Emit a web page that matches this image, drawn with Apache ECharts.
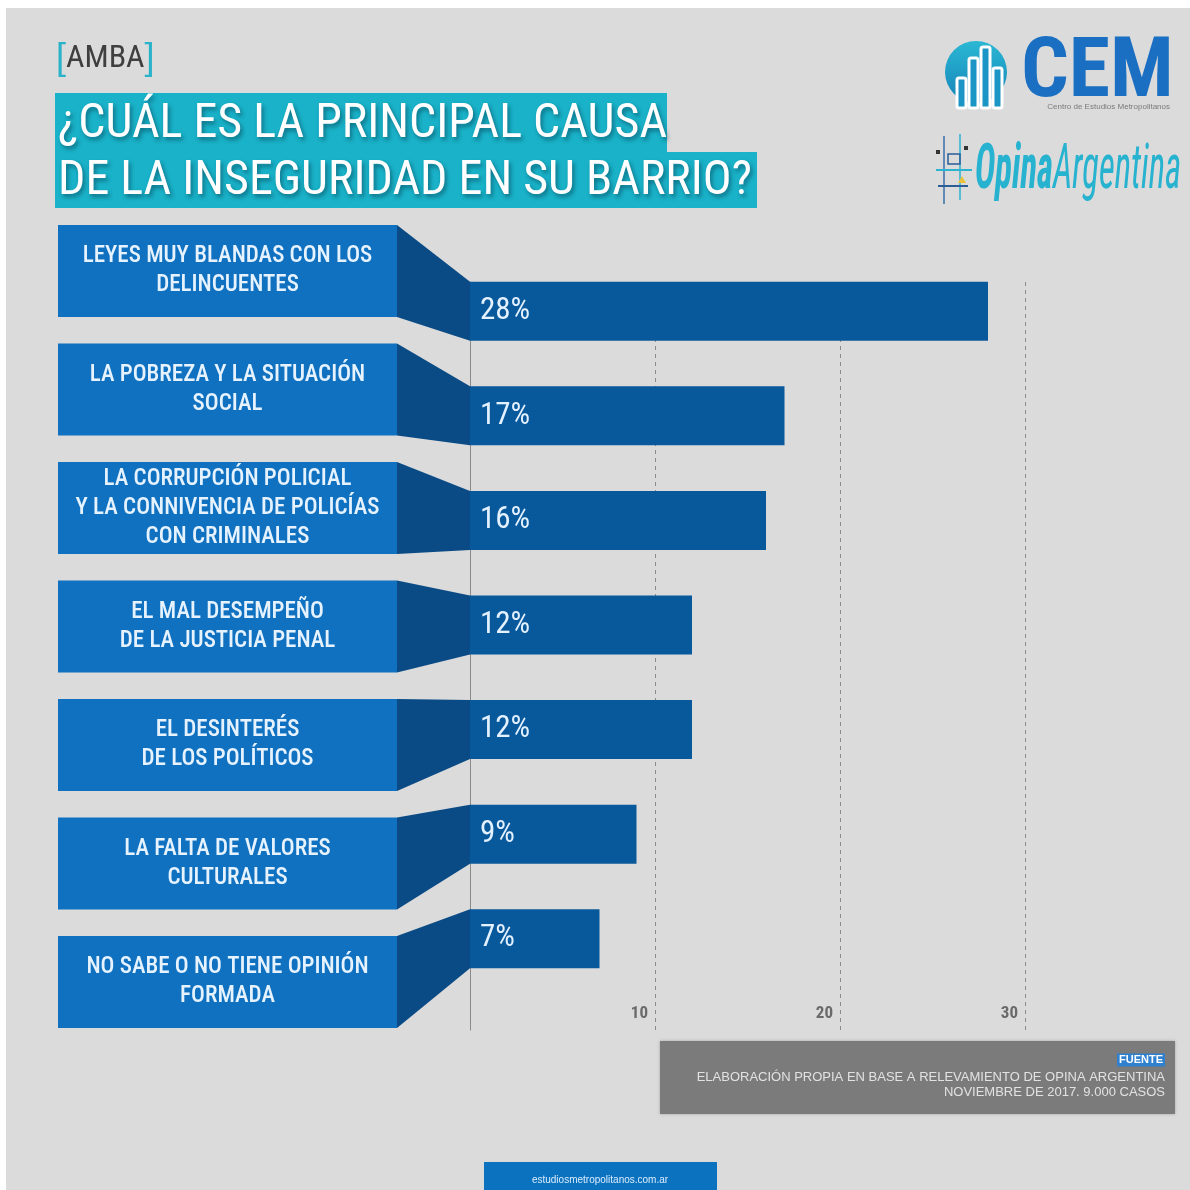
<!DOCTYPE html>
<html><head><meta charset="utf-8">
<script src="https://cdn.jsdelivr.net/npm/echarts@6/dist/echarts.min.js"></script>
<style>html,body{margin:0;padding:0;background:#fff;}#c{width:1190px;height:1190px;}</style>
</head><body><div id="c"></div>
<script>
const categories = [
  'LEYES MUY BLANDAS CON LOS\nDELINCUENTES',
  'LA POBREZA Y LA SITUACIÓN\nSOCIAL',
  'LA CORRUPCIÓN POLICIAL\nY LA CONNIVENCIA DE POLICÍAS\nCON CRIMINALES',
  'EL MAL DESEMPEÑO\nDE LA JUSTICIA PENAL',
  'EL DESINTERÉS\nDE LOS POLÍTICOS',
  'LA FALTA DE VALORES\nCULTURALES',
  'NO SABE O NO TIENE OPINIÓN\nFORMADA'
];
const values = [28, 17, 16, 12, 12, 9, 7];
const axisMax = 30;
const axisInterval = 10;
const titleLines = ['¿CUÁL ES LA PRINCIPAL CAUSA', 'DE LA INSEGURIDAD EN SU BARRIO?'];
const regionLabel = 'AMBA';
const sourceLines = ['ELABORACIÓN PROPIA EN BASE A RELEVAMIENTO DE OPINA ARGENTINA', 'NOVIEMBRE DE 2017. 9.000 CASOS'];
const footerText = 'estudiosmetropolitanos.com.ar';

const FONT = "'Liberation Sans Narrow','Arial Narrow','Roboto Condensed',Roboto,sans-serif";
const SANS = "'Liberation Sans',Arial,sans-serif";
const BOX_H = 92, BAR_W = 59;
const BOX_BLUE = '#0f71bf', BAR_BLUE = '#08599b', CONN_BLUE = '#0a4b85';

const chart = echarts.init(document.getElementById('c'), null, {renderer: 'canvas'});

const option = {
  backgroundColor: '#dbdbdb',
  animation: false,
  grid: [
    {left: 470, top: 259, width: 555, height: 732},
    {left: 470, top: 282, width: 555, height: 748},
    {left: 58, top: 211.75, width: 339, height: 829.5}
  ],
  xAxis: [
    {gridIndex: 0, type: 'value', min: 0, max: axisMax, show: false},
    {gridIndex: 1, type: 'value', min: 0, max: axisMax, interval: axisInterval,
      axisLine: {show: false}, axisTick: {show: false},
      splitLine: {show: true, lineStyle: {color: '#8a8a8a', type: [4, 4], width: 1}},
      axisLabel: {inside: true, showMinLabel: false, align: 'right', padding: [0, 7, 0, 0], margin: 8,
        color: '#6a6a6a', fontSize: 17, fontWeight: 'bold', fontFamily: FONT}},
    {gridIndex: 2, type: 'value', min: 0, max: 1, show: false}
  ],
  yAxis: [
    {gridIndex: 0, type: 'category', data: categories, inverse: true, show: false},
    {gridIndex: 1, type: 'value', min: 0, max: 1, axisLine: {show: true, lineStyle: {color: '#8a8a8a', width: 1}},
      axisTick: {show: false}, axisLabel: {show: false}, splitLine: {show: false}},
    {gridIndex: 2, type: 'category', data: categories, inverse: true, show: false}
  ],
  series: [
    {type: 'bar', id: 'bars', xAxisIndex: 0, yAxisIndex: 0, data: values, barWidth: BAR_W, z: 3, silent: true,
      itemStyle: {color: BAR_BLUE},
      label: {show: true, position: 'insideLeft', distance: 10, formatter: '{c}%', color: '#e4f1ff',
        fontSize: 31, fontFamily: FONT}},
    {type: 'custom', id: 'boxes', xAxisIndex: 2, yAxisIndex: 2, silent: true, z: 3,
      data: categories.map(c => [c]), dimensions: ['cat'], encode: {y: 'cat'},
      renderItem: function (params, api) {
        const yc = api.coord([0, api.value(0)])[1];
        const cs = params.coordSys;
        return {type: 'group', children: [
          {type: 'rect', shape: {x: cs.x, y: yc - BOX_H / 2, width: cs.width, height: BOX_H}, style: {fill: BOX_BLUE}},
          {type: 'text', style: {text: categories[params.dataIndex], x: cs.x + cs.width / 2, y: yc,
            align: 'center', verticalAlign: 'middle', fill: '#e6f3ff', fontSize: 23, fontWeight: 500,
            fontFamily: FONT, lineHeight: 29}}
        ]};
      }}
  ]
};
chart.setOption(option);

// connectors between label boxes and bars, from library pixel conversions
const xR = chart.convertToPixel({xAxisIndex: 2}, 1);
const xL = chart.convertToPixel({xAxisIndex: 0}, 0);
const conns = categories.map((c, i) => {
  const yb = chart.convertToPixel({yAxisIndex: 2}, i);
  const ya = chart.convertToPixel({yAxisIndex: 0}, i);
  return {type: 'polygon', z: 4, silent: true,
    shape: {points: [[xR, yb - BOX_H / 2], [xL, ya - BAR_W / 2], [xL, ya + BAR_W / 2], [xR, yb + BOX_H / 2]]},
    style: {fill: CONN_BLUE}};
});

const titleStyle = {verticalAlign: 'middle', fill: '#ffffff', fontSize: 48, fontFamily: FONT,
  textShadowColor: 'rgba(0,30,50,0.45)', textShadowBlur: 4, textShadowOffsetX: 2, textShadowOffsetY: 3};

const deco = [
  // white outer border strips
  {type: 'rect', shape: {x: 0, y: 0, width: 1190, height: 8}, style: {fill: '#ffffff'}},
  {type: 'rect', shape: {x: 0, y: 0, width: 6, height: 1190}, style: {fill: '#ffffff'}},
  // region label
  {type: 'text', x: 56, y: 59, style: {
    text: '{b|[}{t|' + regionLabel + '}{b|]}', verticalAlign: 'middle',
    rich: {b: {fontSize: 36, fontFamily: "'Liberation Sans',sans-serif", fill: '#2ab3c8', fontWeight: 'lighter'},
      t: {fontSize: 32, fontFamily: FONT, fill: '#3f3f3f'}}}},
  // title boxes
  {type: 'rect', shape: {x: 55, y: 93, width: 612, height: 60}, style: {fill: '#19b2c8'}},
  {type: 'rect', shape: {x: 55, y: 152, width: 702, height: 56}, style: {fill: '#19b2c8'}},
  {type: 'text', x: 58, y: 125, style: Object.assign({text: titleLines[0]}, titleStyle)},
  {type: 'text', x: 58, y: 182, style: Object.assign({text: titleLines[1]}, titleStyle)},
  // CEM logo
  {type: 'circle', shape: {cx: 976, cy: 72, r: 31}, style: {fill: new echarts.graphic.LinearGradient(0, 0, 0, 1, [{offset: 0, color: '#2bb8d4'}, {offset: 1, color: '#1483b8'}])}},
  {type: 'rect', shape: {x: 957, y: 78, width: 9, height: 30, r: 2}, style: {fill: '#1a95c5', stroke: '#ffffff', lineWidth: 3}},
  {type: 'rect', shape: {x: 969, y: 58, width: 9, height: 50, r: 2}, style: {fill: '#1a95c5', stroke: '#ffffff', lineWidth: 3}},
  {type: 'rect', shape: {x: 981, y: 47, width: 9, height: 61, r: 2}, style: {fill: '#1a95c5', stroke: '#ffffff', lineWidth: 3}},
  {type: 'rect', shape: {x: 993, y: 68, width: 9, height: 40, r: 2}, style: {fill: '#1a95c5', stroke: '#ffffff', lineWidth: 3}},
  {type: 'text', x: 1021, y: 75, style: {text: 'CEM', verticalAlign: 'middle', fill: '#1a6fc2', fontSize: 84, fontWeight: 'bold', fontFamily: FONT}},
  {type: 'text', x: 1170, y: 107, style: {text: 'Centro de Estudios Metropolitanos', align: 'right', verticalAlign: 'middle', fill: '#7a7a7a', fontSize: 8, fontFamily: SANS}},
  // Opina Argentina logo
  {type: 'line', shape: {x1: 944, y1: 136, x2: 944, y2: 204}, style: {stroke: '#3a6ea8', lineWidth: 1.5}},
  {type: 'line', shape: {x1: 960, y1: 134, x2: 960, y2: 200}, style: {stroke: '#2bb3cf', lineWidth: 1.5}},
  {type: 'line', shape: {x1: 936, y1: 170, x2: 972, y2: 170}, style: {stroke: '#2bb3cf', lineWidth: 2}},
  {type: 'line', shape: {x1: 938, y1: 186, x2: 968, y2: 186}, style: {stroke: '#2b5e99', lineWidth: 2}},
  {type: 'rect', shape: {x: 948, y: 154, width: 12, height: 10}, style: {fill: 'none', stroke: '#2b5e99', lineWidth: 1.5}},
  {type: 'rect', shape: {x: 936, y: 150, width: 4, height: 4}, style: {fill: '#333'}},
  {type: 'rect', shape: {x: 964, y: 146, width: 4, height: 4}, style: {fill: '#333'}},
  {type: 'polygon', shape: {points: [[962, 176], [966, 183], [958, 183]]}, style: {fill: '#e8c23a'}},
  {type: 'text', x: 975, y: 172, scaleX: 0.56, originX: 0, originY: 0, style: {
    text: '{a|Opina}{b|Argentina}', verticalAlign: 'middle',
    rich: {a: {fontSize: 62, fontWeight: 'bold', fontStyle: 'italic', fontFamily: FONT, fill: '#27b2cf'},
      b: {fontSize: 62, fontStyle: 'italic', fontFamily: FONT, fill: '#27b2cf'}}}},
  // source box
  {type: 'rect', shape: {x: 660, y: 1041, width: 515, height: 73}, style: {fill: '#7b7b7b', shadowColor: 'rgba(0,0,0,0.25)', shadowBlur: 3}},
  {type: 'text', x: 1165, y: 1060, style: {text: 'FUENTE', align: 'right', verticalAlign: 'middle', fill: '#ffffff', fontSize: 11, fontWeight: 'bold', fontFamily: SANS, backgroundColor: '#2f80cf', padding: [1, 2]}},
  {type: 'text', x: 1165, y: 1077, style: {text: sourceLines[0], align: 'right', verticalAlign: 'middle', fill: '#e2e2e2', fontSize: 13, fontFamily: SANS}},
  {type: 'text', x: 1165, y: 1092, style: {text: sourceLines[1], align: 'right', verticalAlign: 'middle', fill: '#e2e2e2', fontSize: 13, fontFamily: SANS}},
  // footer
  {type: 'rect', shape: {x: 484, y: 1162, width: 233, height: 28}, style: {fill: '#0b72c0'}},
  {type: 'text', x: 600, y: 1180, style: {text: footerText, align: 'center', verticalAlign: 'middle', fill: '#dcecfb', fontSize: 10, fontFamily: SANS}}
];

chart.setOption({graphic: deco.concat(conns)});
</script>
</body></html>
